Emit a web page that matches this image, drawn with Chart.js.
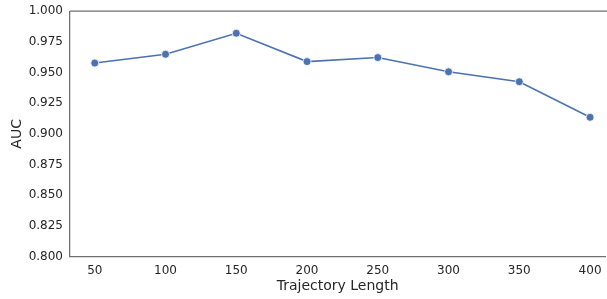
<!DOCTYPE html>
<html>
<head>
<meta charset="utf-8">
<script src="https://cdn.jsdelivr.net/npm/chart.js@4/dist/chart.umd.min.js"></script>
<style>
  html, body { margin: 0; padding: 0; background: #fff; overflow: hidden; }
  #wrap { width: 607px; height: 299px; overflow: hidden; }
  #myChart { display: block; margin-top: -3px; }
</style>
</head>
<body>
<div id="wrap"><canvas id="myChart" width="610" height="302"></canvas></div>
<script>
const trajectoryLengths = [50, 100, 150, 200, 250, 300, 350, 400];
const aucValues = [0.9577, 0.9649, 0.9820, 0.9589, 0.9622, 0.9506, 0.9425, 0.9135];
const yTicks = [0.800, 0.825, 0.850, 0.875, 0.900, 0.925, 0.950, 0.975, 1.000];

const spineColor = '#6f6f6f';
const textColor = '#262626';

// top spine (matplotlib style frame, right side is cropped off)
const topSpine = {
    id: 'topSpine',
    afterDraw(chart) {
        const { ctx, chartArea } = chart;
        ctx.save();
        ctx.strokeStyle = spineColor;
        ctx.lineWidth = 1.25;
        ctx.beginPath();
        ctx.moveTo(chartArea.left, chartArea.top);
        ctx.lineTo(chart.width, chartArea.top);
        ctx.stroke();
        ctx.restore();
    }
};

const ctx = document.getElementById('myChart').getContext('2d');
const chart = new Chart(ctx, {
    type: 'line',
    data: {
        datasets: [{
            data: trajectoryLengths.map((v, i) => ({ x: v, y: aucValues[i] })),
            borderColor: '#4c72b0',
            backgroundColor: '#4c72b0',
            pointBackgroundColor: '#4c72b0',
            pointBorderColor: '#ffffff',
            pointBorderWidth: 0.8,
            pointRadius: 4,
            borderWidth: 1.6,
            tension: 0
        }]
    },
    options: {
        responsive: false,
        animation: false,
        layout: { padding: { left: 0, right: 0, top: 0, bottom: 0 } },
        plugins: {
            legend: { display: false },
            tooltip: { enabled: false }
        },
        scales: {
            x: {
                type: 'linear',
                min: 32.5,
                max: 410.7,
                afterBuildTicks: axis => { axis.ticks = trajectoryLengths.map(v => ({ value: v })); },
                afterFit: axis => { axis.height = 42.5; },
                grid: { display: false, drawTicks: false },
                border: { display: true, color: spineColor, width: 1.25 },
                ticks: {
                    color: textColor,
                    font: { family: 'DejaVu Sans', size: 12 },
                    padding: 7,
                    maxRotation: 0
                },
                title: {
                    display: true,
                    text: 'Trajectory Length',
                    color: textColor,
                    font: { family: 'DejaVu Sans', size: 14 },
                    padding: { top: 0, bottom: 4 }
                }
            },
            y: {
                min: 0.8,
                max: 1.0,
                afterBuildTicks: axis => { axis.ticks = yTicks.map(v => ({ value: v })); },
                afterFit: axis => { axis.width = 70; },
                grid: { display: false, drawTicks: false },
                border: { display: true, color: spineColor, width: 1.25 },
                ticks: {
                    color: textColor,
                    font: { family: 'DejaVu Sans', size: 12 },
                    padding: 7,
                    callback: v => v.toFixed(3)
                },
                title: {
                    display: true,
                    text: 'AUC',
                    color: textColor,
                    font: { family: 'DejaVu Sans', size: 14 },
                    padding: { top: 9, bottom: 0 }
                }
            }
        }
    },
    plugins: [topSpine]
});
</script>
</body>
</html>
